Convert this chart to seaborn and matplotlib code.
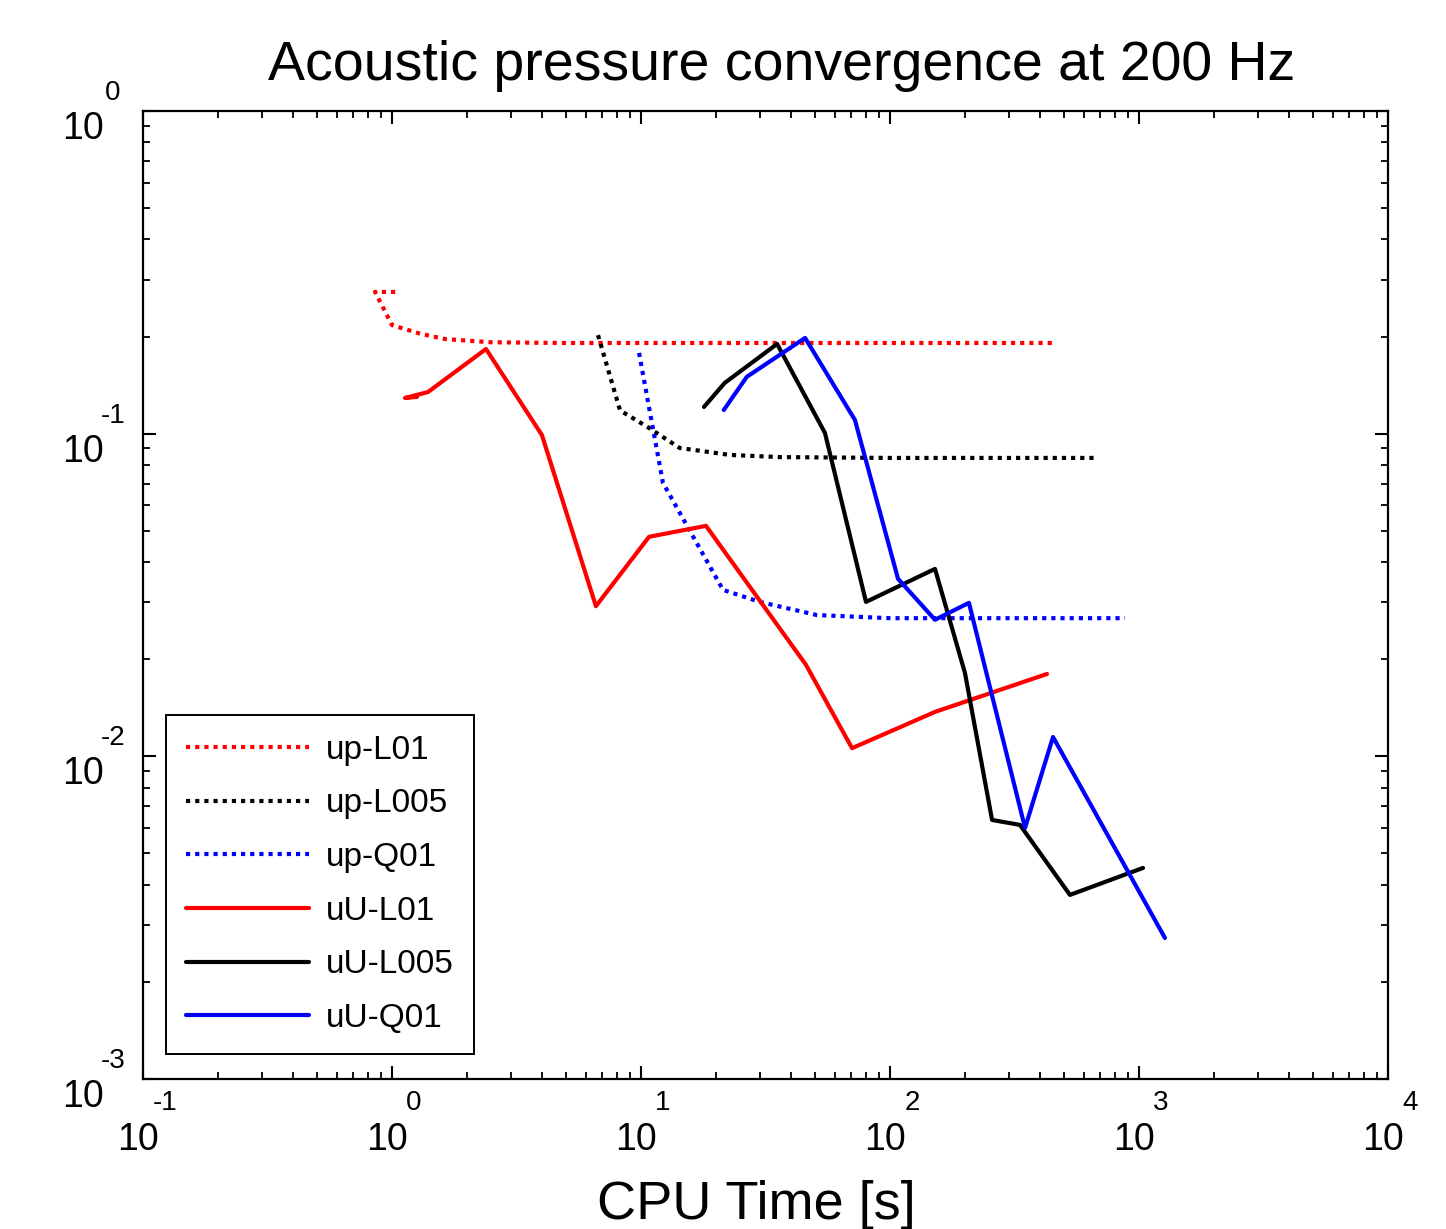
import numpy as np
import pandas as pd
import matplotlib
matplotlib.use('Agg')
import matplotlib.pyplot as plt
import matplotlib.transforms as mtransforms
from matplotlib import font_manager
import seaborn as sns

# CPU time [s] and relative error
up_L01_t = [1.03, 0.855, 1.0, 1.30, 1.63, 2.48, 4.72, 20.0, 100.0, 460.0]
up_L01_e = [0.275, 0.275, 0.217, 0.204, 0.1965, 0.192, 0.191, 0.191, 0.191, 0.191]

up_L005_t = [6.72, 8.24, 10.6, 14.3, 22.8, 36.2, 100.0, 665.0]
up_L005_e = [0.202, 0.118, 0.105, 0.0903, 0.0859, 0.0846, 0.0841, 0.0841]

up_Q01_t = [9.82, 12.25, 21.35, 30.0, 50.9, 100.0, 879.0]
up_Q01_e = [0.178, 0.0704, 0.0328, 0.0301, 0.0274, 0.0268, 0.0268]

uU_L01_t = [1.26, 1.128, 1.395, 2.385, 4.0, 6.59, 10.77, 18.24, 46.0, 70.4, 151.6, 427.0]
uU_L01_e = [0.130, 0.129, 0.1346, 0.183, 0.099, 0.0292, 0.0479, 0.0518, 0.0192, 0.0106, 0.01373, 0.0180]

uU_L005_t = [17.9, 21.7, 35.2, 54.8, 80.1, 151.6, 200.0, 257.0, 332.6, 528.0, 1038.0]
uU_L005_e = [0.121, 0.1437, 0.1897, 0.1005, 0.0301, 0.0381, 0.01813, 0.00635, 0.00613, 0.00372, 0.00451]

uU_Q01_t = [21.5, 26.6, 45.6, 72.3, 107.7, 151.6, 207.5, 348.6, 451.5, 1271.0]
uU_Q01_e = [0.1184, 0.150, 0.198, 0.1103, 0.0355, 0.0265, 0.0299, 0.0060, 0.01148, 0.002736]

series = [
    ('up-L01', up_L01_t, up_L01_e, 'red', True),
    ('up-L005', up_L005_t, up_L005_e, 'black', True),
    ('up-Q01', up_Q01_t, up_Q01_e, 'blue', True),
    ('uU-L01', uU_L01_t, uU_L01_e, 'red', False),
    ('uU-L005', uU_L005_t, uU_L005_e, 'black', False),
    ('uU-Q01', uU_Q01_t, uU_Q01_e, 'blue', False),
]

sns.set_style('ticks')
plt.rcParams['font.family'] = ['Liberation Sans', 'DejaVu Sans']
for key in ['text.color', 'axes.labelcolor', 'xtick.color', 'ytick.color', 'axes.edgecolor']:
    plt.rcParams[key] = 'black'

names = {f.name for f in font_manager.fontManager.ttflist}
if 'Liberation Sans Narrow' in names:
    small_font = 'Liberation Sans Narrow'
    tick_size, leg_size = 31, 28
else:
    small_font = 'Liberation Sans'
    tick_size, leg_size = 27, 24

fig = plt.figure(figsize=(14.46, 12.29), dpi=100)
ax = fig.add_axes([143 / 1446, 1 - 1079 / 1229, 1245 / 1446, 968 / 1229])

for name, t, e, color, dotted in series:
    df = pd.DataFrame({'t': t, 'e': e})
    sns.lineplot(data=df, x='t', y='e', ax=ax, sort=False, estimator=None,
                 color=color, linewidth=3.0, label=name)
    line = ax.get_lines()[-1]
    if dotted:
        line.set_dashes([1.0, 1.2])
        line.set_dash_capstyle('butt')

ax.set_xscale('log')
ax.set_yscale('log')
ax.set_xlim(1e-1, 1e4)
ax.set_ylim(1e-3, 1e0)

for s in ax.spines.values():
    s.set_linewidth(1.6)
    s.set_color('black')
ax.tick_params(which='both', direction='in', top=True, right=True,
               labelbottom=False, labelleft=False, color='black')
ax.tick_params(which='major', length=9.5, width=1.5)
ax.tick_params(which='minor', length=5, width=1.3)
ax.xaxis.set_minor_locator(matplotlib.ticker.LogLocator(base=10, subs=np.arange(2, 10)))
ax.yaxis.set_minor_locator(matplotlib.ticker.LogLocator(base=10, subs=np.arange(2, 10)))

pt = fig.dpi_scale_trans
xexps = [-1, 0, 1, 2, 3, 4]
for k in xexps:
    tr = ax.get_xaxis_transform() + mtransforms.ScaledTranslation(-5 / 100, -61 / 100, pt)
    ax.text(10.0 ** k, 0, '10', transform=tr, ha='center', va='center',
            fontsize=tick_size, family=small_font, clip_on=False)
    tr2 = ax.get_xaxis_transform() + mtransforms.ScaledTranslation(22 / 100, -24 / 100, pt)
    ax.text(10.0 ** k, 0, str(k), transform=tr2, ha='center', va='center',
            fontsize=20, family=small_font, clip_on=False)

yexps = [-3, -2, -1, 0]
for k in yexps:
    tr = ax.get_yaxis_transform() + mtransforms.ScaledTranslation(-60 / 100, -18 / 100, pt)
    ax.text(0, 10.0 ** k, '10', transform=tr, ha='center', va='center',
            fontsize=tick_size, family=small_font, clip_on=False)
    tr2 = ax.get_yaxis_transform() + mtransforms.ScaledTranslation(-30 / 100, 18 / 100, pt)
    ax.text(0, 10.0 ** k, str(k), transform=tr2, ha='center', va='center',
            fontsize=20, family=small_font, clip_on=False)

ax.set_xlabel('CPU Time [s]', fontsize=39)
ax.xaxis.set_label_coords(0.493, -0.104)
ax.set_ylabel('')
ax.set_title('Acoustic pressure convergence at 200 Hz', fontsize=40, pad=22, x=0.513)

leg = ax.legend(loc='lower left', bbox_to_anchor=(0.0185, 0.0258),
                fancybox=False, framealpha=1, edgecolor='black',
                prop={'family': small_font, 'size': leg_size},
                handlelength=3.7, handletextpad=0.5, labelspacing=0.68,
                borderpad=0.6, borderaxespad=0)
leg.get_frame().set_linewidth(1.4)

fig.savefig('out.png', dpi=100)
